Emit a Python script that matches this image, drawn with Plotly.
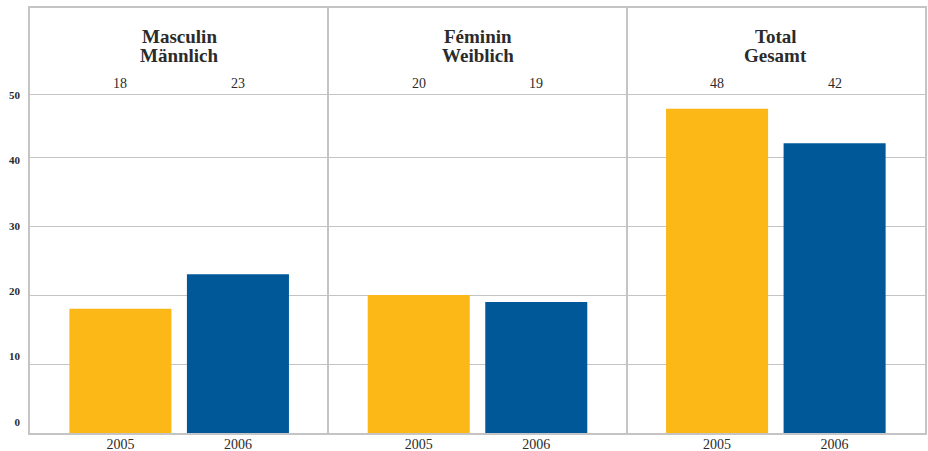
import plotly.graph_objects as go

# ---- data ----
categories = ["Masculin<br>Männlich", "Féminin<br>Weiblich", "Total<br>Gesamt"]
years = ["2005", "2006"]
values_2005 = [18, 20, 47]
values_2006 = [23, 19, 42]
labels_2005 = ["18", "20", "48"]
labels_2006 = ["23", "19", "42"]
y_tick_text = ["0", "10", "20", "30", "40", "50"]

# ---- style ----
YELLOW = "#FBB817"
BLUE = "#005899"
GRID = "#c4c4c4"
TEXT = "#2b2b2b"
FONT = "Liberation Serif"
HEADER_LINE = 49.0
Y_TOP = 61.6
OFFSET = 0.197
BAR_W = 0.342

n = len(categories)
x05 = [i + 0.5 - OFFSET for i in range(n)]
x06 = [i + 0.5 + OFFSET for i in range(n)]

fig = go.Figure()
fig.add_trace(go.Bar(x=x05, y=values_2005, width=BAR_W, marker=dict(color=YELLOW, line=dict(width=0)),
                     name=years[0], hoverinfo="skip"))
fig.add_trace(go.Bar(x=x06, y=values_2006, width=BAR_W, marker=dict(color=BLUE, line=dict(width=0)),
                     name=years[1], hoverinfo="skip"))

annotations = []
for i, cat in enumerate(categories):
    lines = cat.split("<br>")
    for j, line in enumerate(lines):
        annotations.append(dict(
            x=i + 0.5, y=57.6 - j * 2.75, xref="x", yref="y", text=f"<b>{line}</b>",
            showarrow=False, yanchor="middle", xanchor="center", height=18,
            font=dict(family=FONT, size=19, color=TEXT)))
    for xv, lab in ((x05[i], labels_2005[i]), (x06[i], labels_2006[i])):
        annotations.append(dict(
            x=xv, y=50.6, xref="x", yref="y", text=lab, showarrow=False,
            yanchor="middle", xanchor="center", font=dict(family=FONT, size=14, color=TEXT)))

# y tick labels sit evenly between the bottom and the header line
lab_lo, lab_hi = 1.6, HEADER_LINE
step = (lab_hi - lab_lo) / (len(y_tick_text) - 1)
y_tick_pos = [lab_lo + k * step for k in range(len(y_tick_text))]

fig.update_layout(
    width=928, height=451,
    margin=dict(l=30, r=3, t=8, b=18),
    paper_bgcolor="white", plot_bgcolor="white",
    showlegend=False, barmode="overlay",
    annotations=annotations,
    xaxis=dict(
        range=[0, n], tickmode="array",
        tickvals=x05 + x06, ticktext=[years[0]] * n + [years[1]] * n,
        showgrid=False, zeroline=False, automargin=False,
        showline=True, mirror=True, linecolor=GRID, linewidth=1.5,
        ticks="", ticklabelstandoff=-3,
        tickfont=dict(family=FONT, size=14, color=TEXT),
        minor=dict(tickmode="array", tickvals=list(range(1, n)), showgrid=True,
                   gridcolor=GRID, gridwidth=1.5, ticks=""),
        fixedrange=True,
    ),
    yaxis=dict(
        range=[0, Y_TOP], tickmode="array",
        tickvals=y_tick_pos, ticktext=[f"<b>{t}</b>" for t in y_tick_text],
        showgrid=False, zeroline=False, automargin=False,
        showline=True, mirror=True, linecolor=GRID, linewidth=1.5,
        ticks="", ticklabelstandoff=6,
        tickfont=dict(family=FONT, size=11, color=TEXT),
        minor=dict(tickmode="array", tickvals=[10, 20, 30, 40, HEADER_LINE], showgrid=True,
                   gridcolor=GRID, gridwidth=1.2, ticks=""),
        fixedrange=True,
    ),
)

# remove the browser's default 8px body margin so the 928x451 figure fills the window
fig.write_html("out.html", config={"displayModeBar": False},
               post_script="document.body.style.margin='0';document.body.style.overflow='hidden';")
